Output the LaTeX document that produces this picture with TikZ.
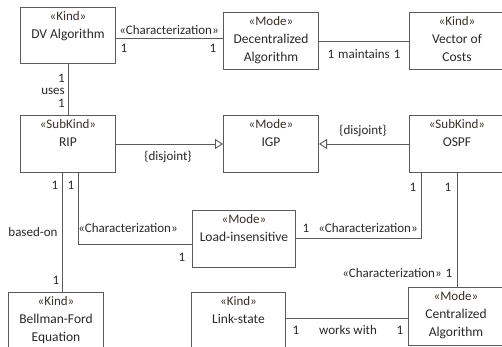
\documentclass[tikz,border=0pt]{standalone}
\usepackage{fontspec}
\setmainfont{Carlito}
\usetikzlibrary{arrows.meta,calc}
\definecolor{linegray}{HTML}{5A5A5A}
\definecolor{txt}{HTML}{2A2A2A}
\definecolor{stereo}{HTML}{3A3128}
\tikzset{
  classbox/.style={draw=linegray, line width=1pt, fill=white, anchor=north west,
    inner sep=0pt, minimum height=57pt},
  classtext/.style={anchor=north, align=center, inner sep=0pt, text=txt,
    font=\fontsize{13.5}{18}\selectfont},
  conn/.style={draw=linegray, line width=0.9pt},
  gen/.style={conn, -{Triangle[open, length=8pt, width=10pt, line width=0.9pt]}},
  lbl/.style={inner sep=0pt, text=txt, font=\fontsize{13}{15}\selectfont},
}
\newcommand{\stype}[1]{{\color{stereo}\fontsize{13}{18}\selectfont«#1»}}
\begin{document}
\begin{tikzpicture}[x=1pt, y=-1pt]
\useasboundingbox (0,0) rectangle (502,347);
\clip (0,0) rectangle (502,347);
\fill[white] (0,0) rectangle (502,347);

% class boxes
\node[classbox, minimum width=95pt, minimum height=56pt] (dv)  at (20,7)   {};
\node[classbox, minimum width=95pt] (dec) at (223,12)  {};
\node[classbox, minimum width=95pt] (vec) at (409,12)  {};
\node[classbox, minimum width=95pt] (rip) at (20,115)  {};
\node[classbox, minimum width=95pt] (igp) at (223,115) {};
\node[classbox, minimum width=95pt] (ospf) at (409,115) {};
\node[classbox, minimum width=103pt] (load) at (192,210) {};
\node[classbox, minimum width=95pt] (bf)  at (8,292)   {};
\node[classbox, minimum width=94pt] (ls)  at (191,292) {};
\node[classbox, minimum width=95pt, minimum height=58pt] (cen) at (408,287) {};

% class texts
\node[classtext] (dvt)   at ([yshift=-4.5pt]dv.north)   {\stype{Kind}\\DV Algorithm};
\node[classtext] (dect)  at ([yshift=-4.5pt]dec.north)  {\stype{Mode}\\Decentralized\\Algorithm};
\node[classtext] (vect)  at ([yshift=-4.5pt]vec.north)  {\stype{Kind}\\Vector of\\Costs};
\node[classtext] (ript)  at ([yshift=-4.5pt]rip.north)  {\stype{SubKind}\\RIP};
\node[classtext] (igpt)  at ([yshift=-4.5pt]igp.north)  {\stype{Mode}\\IGP};
\node[classtext] (ospft) at ([yshift=-4.5pt]ospf.north) {\stype{SubKind}\\OSPF};
\node[classtext] (loadt) at ([yshift=-4.5pt]load.north) {\stype{Mode}\\Load-insensitive};
\node[classtext] (bft)   at ([yshift=-4.5pt]bf.north)   {\stype{Kind}\\Bellman-Ford\\Equation};
\node[classtext] (lst)   at ([yshift=-4.5pt]ls.north)   {\stype{Kind}\\Link-state};
\node[classtext] (cent)  at ([yshift=-4.5pt]cen.north)  {\stype{Mode}\\Centralized\\Algorithm};

% connector end and bend points
\coordinate (dvr) at ([yshift=-3pt]dv.east);
\coordinate (ripc) at (78,244);
\coordinate (ospfc) at (421,238);
\coordinate (bfx) at (62,0);
\coordinate (cenx) at (457,0);
\coordinate (lsy) at (0,318);

% associations
\draw[conn] (dvr) -- (dec.west |- dvr);
\draw[conn] (dec.east) -- (vec.west);
\draw[conn] (dv.south) -- (rip.north);
\draw[conn] (rip.south -| bfx) -- (bf.north -| bfx);
\draw[conn] (rip.south -| ripc) -- (ripc) -- (load.west |- ripc);
\draw[conn] (ospf.south -| ospfc) -- (ospfc) -- (load.east |- ospfc);
\draw[conn] (ospf.south -| cenx) -- (cen.north -| cenx);
\draw[conn] (ls.east |- lsy) -- (cen.west |- lsy);

% generalizations
\draw[gen] (rip.east) -- (igp.west);
\draw[gen] (ospf.west) -- (igp.east);

% association labels
\node[lbl] (l1) at (169,30) {«Characterization»};
\node[lbl] (l2) at (124,48) {1};
\node[lbl] (l3) at (213,48) {1};
\node[lbl] (l4) at (364,54) {1\hspace{4pt}maintains\hspace{4pt}1};
\node[lbl, anchor=east] (l5) at (65,78) {1};
\node[lbl, anchor=east] (l6) at (65,91) {uses};
\node[lbl, anchor=east] (l7) at (65,103) {1};
\node[lbl] (l8) at (168,157) {\{disjoint\}};
\node[lbl] (l9) at (363,131) {\{disjoint\}};
\node[lbl] (l10) at (55,185) {1};
\node[lbl] (l11) at (71,185) {1};
\node[lbl] (l12) at (33,232) {based-on};
\node[lbl] (l13) at (56,280) {1};
\node[lbl] (l14) at (128,228) {«Characterization»};
\node[lbl] (l15) at (182,257) {1};
\node[lbl] (l16) at (413,187) {1};
\node[lbl] (l17) at (448,187) {1};
\node[lbl] (l18) at (306,228) {1};
\node[lbl] (l19) at (368,228) {«Characterization»};
\node[lbl] (l20) at (392,273) {«Characterization»};
\node[lbl] (l21) at (449,273) {1};
\node[lbl] (l22) at (296,330) {1};
\node[lbl] (l23) at (348,330) {works with};
\node[lbl] (l24) at (400,330) {1};
\end{tikzpicture}
\end{document}
